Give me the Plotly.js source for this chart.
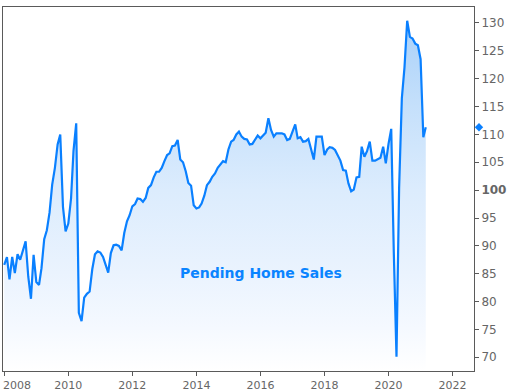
<!DOCTYPE html>
<html>
<head>
<meta charset="utf-8">
<script src="https://cdn.plot.ly/plotly-3.0.1.min.js"></script>
<style>html,body{margin:0;padding:0;background:#fff;}#chart{width:513px;height:392px;}</style>
</head>
<body>
<div id="chart"></div>
<script>
// Pending Home Sales index, monthly, Jan 2008 .. Mar 2021
const startYear = 2008;
const values2008 = [86.6, 88.0, 84.0, 88.0, 85.1, 88.5, 87.5, 89.0, 90.8, 84.5, 80.5, 88.4];
const values2009 = [83.5, 83.0, 86.0, 91.2, 92.8, 96.0, 101.0, 104.0, 108.2, 110.0, 97.0, 92.6];
const values2010 = [94.0, 98.5, 107.0, 112.0, 78.0, 76.5, 80.7, 81.4, 81.8, 85.8, 88.5, 89.0];
const values2011 = [88.8, 88.0, 86.8, 85.2, 88.7, 90.1, 90.2, 90.0, 89.2, 92.3, 94.4, 95.5];
const values2012 = [97.1, 97.5, 98.5, 98.4, 97.9, 98.6, 100.4, 100.9, 102.3, 103.3, 103.3, 104.0];
const values2013 = [105.2, 106.3, 106.6, 107.9, 108.0, 109.0, 105.5, 105.0, 103.4, 101.3, 100.8, 97.3];
const values2014 = [96.7, 96.9, 97.6, 99.0, 100.9, 101.5, 102.4, 103.0, 104.0, 104.5, 105.2, 105.0];
const values2015 = [107.3, 108.7, 109.0, 110.0, 110.5, 109.6, 109.2, 109.1, 108.2, 108.3, 109.0, 109.8];
const values2016 = [109.3, 109.9, 110.3, 112.9, 110.8, 109.6, 110.2, 110.2, 110.2, 110.0, 109.0, 109.2];
const values2017 = [110.6, 111.8, 109.3, 109.5, 108.7, 108.8, 109.2, 107.3, 105.5, 109.6, 109.6, 109.6];
const values2018 = [106.3, 107.3, 107.7, 107.6, 107.2, 106.2, 105.3, 103.6, 103.5, 101.2, 99.8, 100.1];
const values2019 = [102.3, 102.4, 107.8, 106.0, 107.0, 108.7, 105.3, 105.3, 105.6, 105.8, 107.8, 104.8];
const values2020 = [108.3, 111.0, 89.0, 70.1, 100.5, 116.5, 122.0, 130.4, 127.5, 127.2, 126.3, 126.0];
const values2021 = [123.5, 109.5, 111.3];

const yTickVals = [70, 75, 80, 85, 90, 95, 100, 105, 110, 115, 120, 125, 130];
const xTickYears = ["2008", "2010", "2012", "2014", "2016", "2018", "2020", "2022"];
const seriesName = "Pending Home Sales";

const values = [].concat(values2008, values2009, values2010, values2011, values2012,
  values2013, values2014, values2015, values2016, values2017, values2018, values2019,
  values2020, values2021);
const dates = values.map((v, i) => {
  const y = startYear + Math.floor(i / 12);
  const m = (i % 12) + 1;
  return y + "-" + (m < 10 ? "0" + m : m) + "-01";
});
const lastValue = values[values.length - 1];

const lineColor = "#0a80ff";
const axisColor = "#5a5a5a";
const tickColor = "#666";

const traces = [
  {
    x: dates, y: values, type: "scatter", mode: "lines",
    line: {color: lineColor, width: 2.2},
    fill: "tozeroy",
    fillgradient: {
      type: "vertical", start: 67.5, stop: 131,
      colorscale: [[0, "#ffffff"], [0.12, "#f5f9ff"], [0.28, "#eaf3fe"], [0.51, "#dcecfd"], [0.75, "#c5e0fb"], [1, "#a8d0f9"]]
    },
    hoverinfo: "skip", showlegend: false
  }
];

const layout = {
  width: 513, height: 392,
  margin: {l: 3, r: 39, t: 7, b: 21},
  paper_bgcolor: "#ffffff", plot_bgcolor: "#ffffff",
  showlegend: false,
  font: {family: "DejaVu Sans", size: 12, color: tickColor},
  xaxis: {
    type: "date",
    range: ["2007-12-18", "2022-09-02"],
    tickmode: "array",
    tickvals: xTickYears.map(y => y + "-01-01"),
    ticktext: xTickYears.map((y, i) => i === 0 ? "" : y),
    ticks: "outside", ticklen: 4, tickcolor: axisColor,
    showline: true, linecolor: axisColor, linewidth: 1, mirror: true,
    showgrid: false, zeroline: false,
    tickfont: {family: "DejaVu Sans", size: 11, color: tickColor}
  },
  yaxis: {
    side: "right",
    range: [67.54, 132.87],
    tickmode: "array",
    tickvals: yTickVals,
    ticktext: yTickVals.map(v => v === 100 ? "<b>100</b>" : String(v)),
    ticks: "outside", ticklen: 4, tickcolor: axisColor,
    showline: true, linecolor: axisColor, linewidth: 1, mirror: true,
    showgrid: false, zeroline: false,
    tickfont: {family: "DejaVu Sans", size: 12, color: tickColor}
  },
  shapes: [{
    type: "path", xref: "paper", yref: "y",
    xsizemode: "pixel", ysizemode: "pixel",
    xanchor: 1.0106, yanchor: lastValue,
    path: "M0,4.2 L4.2,0 L0,-4.2 L-4.2,0 Z",
    fillcolor: lineColor, line: {width: 0}, layer: "above"
  }],
  annotations: [
    {
      text: "<b>" + seriesName + "</b>",
      xref: "paper", yref: "paper", x: 0.547, y: 0.268,
      xanchor: "center", yanchor: "middle", showarrow: false,
      font: {family: "DejaVu Sans", size: 14, color: "#0a84ff"}
    },
    {
      text: xTickYears[0],
      xref: "paper", yref: "paper", x: 0, y: -0.0385,
      xanchor: "left", yanchor: "middle", showarrow: false,
      xshift: -2,
      font: {family: "DejaVu Sans", size: 11, color: tickColor}
    }
  ]
};

Plotly.newPlot("chart", traces, layout, {displayModeBar: false, staticPlot: true});
</script>
</body>
</html>
